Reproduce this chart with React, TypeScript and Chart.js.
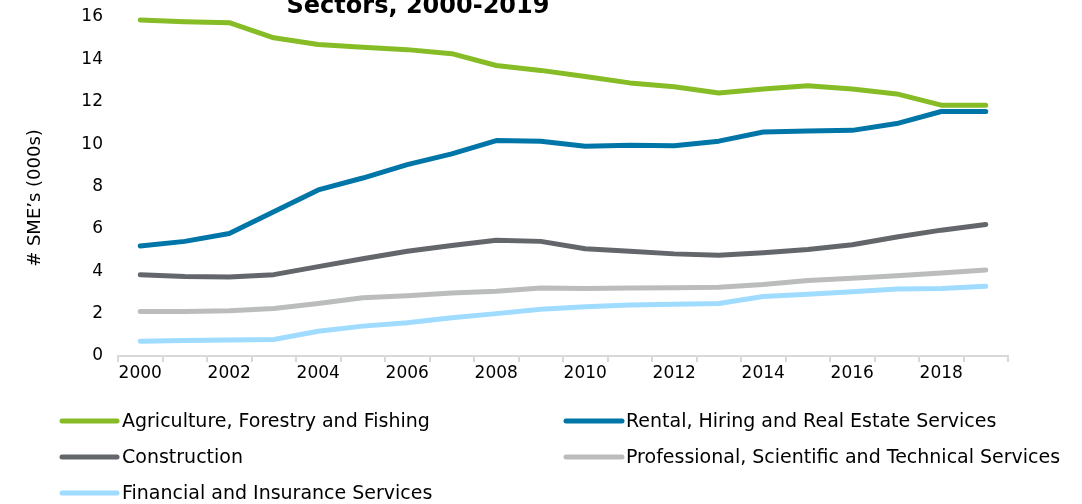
import React, { useEffect, useRef } from "react";
import { Chart, registerables } from "chart.js";

Chart.register(...registerables);

const years = [
  "2000", "2001", "2002", "2003", "2004", "2005", "2006", "2007", "2008", "2009",
  "2010", "2011", "2012", "2013", "2014", "2015", "2016", "2017", "2018", "2019",
];

const agriculture = [15.86, 15.78, 15.73, 15.02, 14.7, 14.57, 14.46, 14.27, 13.71, 13.48, 13.19, 12.89, 12.71, 12.41, 12.6, 12.76, 12.6, 12.37, 11.84, 11.84];
const rental = [5.19, 5.41, 5.78, 6.81, 7.84, 8.4, 9.03, 9.54, 10.17, 10.14, 9.9, 9.95, 9.92, 10.14, 10.57, 10.62, 10.65, 10.97, 11.54, 11.54];
const construction = [3.84, 3.75, 3.73, 3.84, 4.22, 4.59, 4.94, 5.22, 5.46, 5.41, 5.06, 4.94, 4.82, 4.75, 4.87, 5.03, 5.25, 5.62, 5.94, 6.21];
const professional = [2.1, 2.1, 2.13, 2.24, 2.48, 2.75, 2.84, 2.97, 3.06, 3.21, 3.19, 3.21, 3.22, 3.24, 3.37, 3.56, 3.67, 3.79, 3.92, 4.06];
const financial = [0.7, 0.73, 0.75, 0.78, 1.17, 1.41, 1.57, 1.81, 2.0, 2.21, 2.33, 2.41, 2.44, 2.48, 2.81, 2.92, 3.03, 3.16, 3.19, 3.29];

const seriesNames = [
  "Agriculture, Forestry and Fishing",
  "Rental, Hiring and Real Estate Services",
  "Construction",
  "Professional, Scientific and Technical Services",
  "Financial and Insurance Services",
];
const seriesColors = ["#86BC25", "#0076A8", "#63666A", "#BBBCBC", "#A0DCFF"];
const seriesValues = [agriculture, rental, construction, professional, financial];

const titleText = "Sectors, 2000-2019";
const yTitle = "# SME\u2019s (000s)";
const FONT = "'DejaVu Sans', Verdana, sans-serif";

const titlePlugin = {
  id: "cutTitle",
  afterDraw(chart: any) {
    const ctx = chart.ctx;
    ctx.save();
    ctx.font = `bold 24px ${FONT}`;
    ctx.fillStyle = "#000";
    ctx.textAlign = "center";
    ctx.textBaseline = "alphabetic";
    ctx.fillText(titleText, 418, 13);
    ctx.restore();
    ctx.save();
    ctx.translate(35, 198);
    ctx.rotate(-Math.PI / 2);
    ctx.font = `18px ${FONT}`;
    ctx.fillStyle = "#000";
    ctx.textAlign = "center";
    ctx.textBaseline = "middle";
    ctx.fillText(yTitle, 0, 0);
    ctx.restore();
  },
};

const legendPlugin = {
  id: "gridLegend",
  afterDraw(chart: any) {
    const ctx = chart.ctx;
    const cols = [
      { lineStart: 62, lineEnd: 117, text: 122 },
      { lineStart: 566, lineEnd: 622, text: 626 },
    ];
    const rowY = [421, 457, 493];
    ctx.save();
    ctx.font = `19px ${FONT}`;
    ctx.textBaseline = "middle";
    ctx.textAlign = "left";
    chart.data.datasets.forEach((ds: any, i: number) => {
      const c = cols[i % 2];
      const y = rowY[Math.floor(i / 2)];
      ctx.strokeStyle = ds.borderColor;
      ctx.lineWidth = 5;
      ctx.lineCap = "round";
      ctx.beginPath();
      ctx.moveTo(c.lineStart, y);
      ctx.lineTo(c.lineEnd, y);
      ctx.stroke();
      ctx.fillStyle = "#000";
      ctx.fillText(ds.label, c.text, y + 1);
    });
    ctx.restore();
  },
};

export default function App() {
  const ref = useRef<HTMLCanvasElement | null>(null);
  useEffect(() => {
    if (!ref.current) return;
    const chart = new Chart(ref.current, {
      type: "line",
      data: {
        labels: years,
        datasets: seriesValues.map((vals, i) => ({
          label: seriesNames[i],
          data: vals,
          borderColor: seriesColors[i],
          backgroundColor: seriesColors[i],
          borderWidth: 5,
          borderCapStyle: "round" as const,
          borderJoinStyle: "round" as const,
          pointRadius: 0,
          tension: 0,
          fill: false,
        })),
      },
      options: {
        animation: false,
        responsive: false,
        maintainAspectRatio: false,
        layout: { padding: { top: 17, right: 74, bottom: 108, left: 0 } },
        plugins: {
          legend: { display: false },
          title: { display: false },
          tooltip: { enabled: false },
        },
        scales: {
          x: {
            type: "category",
            offset: true,
            grid: {
              display: true,
              offset: true,
              drawOnChartArea: false,
              drawTicks: true,
              tickLength: 6,
              color: "#d9d9d9",
              lineWidth: 2,
            },
            border: { display: true, color: "#d9d9d9", width: 2 },
            ticks: {
              autoSkip: false,
              maxRotation: 0,
              minRotation: 0,
              padding: 1,
              color: "#000",
              font: { family: FONT, size: 17 },
              callback: (_v: any, idx: number) => (idx % 2 === 0 ? years[idx] : ""),
            },
            afterFit: (scale: any) => {
              scale.height = 40;
              scale.paddingLeft = 0;
              scale.paddingRight = 0;
            },
          },
          y: {
            min: 0,
            max: 16,
            grid: { display: false, drawTicks: false },
            border: { display: false },
            ticks: {
              stepSize: 2,
              padding: 15,
              color: "#000",
              font: { family: FONT, size: 17 },
            },
            title: { display: false },
            afterFit: (scale: any) => {
              scale.width = 118;
              scale.paddingTop = 0;
              scale.paddingBottom = 0;
            },
          },
        },
      },
      plugins: [titlePlugin, legendPlugin],
    });
    return () => chart.destroy();
  }, []);
  return (
    <div style={{ position: "absolute", left: 0, top: 0, width: 1082, height: 504, background: "#fff" }}>
      <canvas ref={ref} width={1082} height={504} style={{ width: 1082, height: 504, display: "block" }} />
    </div>
  );
}
